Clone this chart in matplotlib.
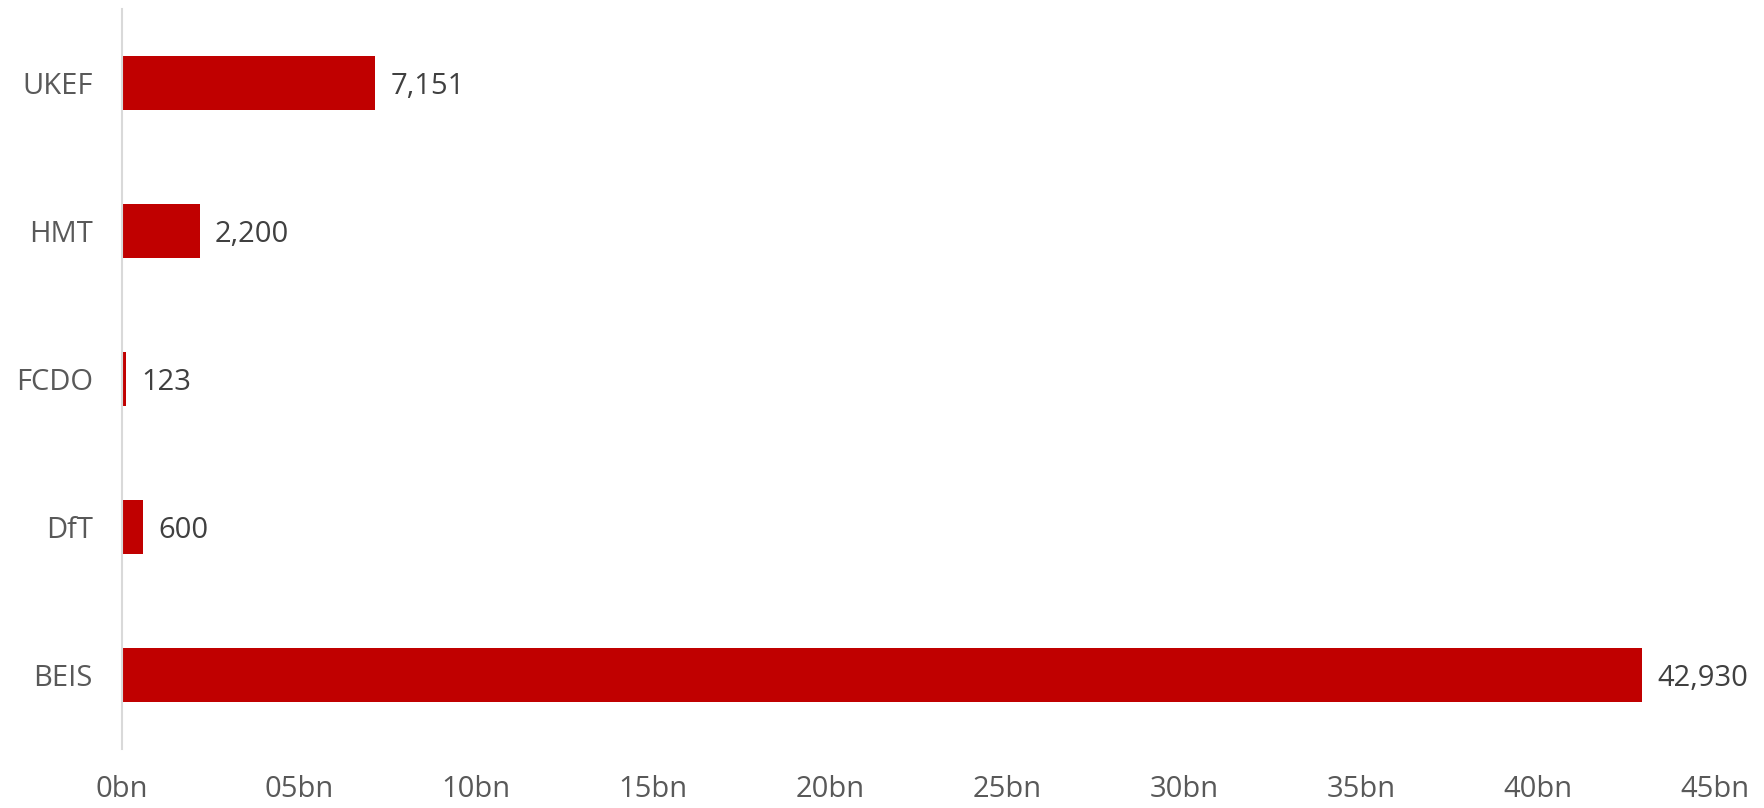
import matplotlib.pyplot as plt

# departamentos y valores (millones)
departments = ['BEIS', 'DfT', 'FCDO', 'HMT', 'UKEF']
values = [42930, 600, 123, 2200, 7151]
xticks = [0, 5, 10, 15, 20, 25, 30, 35, 40, 45]
xtick_labels = ['0bn', '05bn', '10bn', '15bn', '20bn', '25bn', '30bn', '35bn', '40bn', '45bn']

plt.rcParams['font.family'] = ['Open Sans', 'DejaVu Sans']

fig = plt.figure(figsize=(17.65, 8.08), dpi=100)
ax = fig.add_axes([0.0691, 0.073, 0.9026, 0.916])

vals_bn = [v / 1000 for v in values]
bars = ax.barh(range(len(departments)), vals_bn, height=0.36, color='#C00000')

for i, v in enumerate(values):
    ax.annotate(f'{v:,}', xy=(vals_bn[i], i), xytext=(11, 0), textcoords='offset points',
                va='center_baseline', ha='left', fontsize=21, color='#404040')

ax.set_xlim(0, 45)
ax.set_ylim(-0.5, len(departments) - 0.5)
ax.set_yticks(range(len(departments)))
ax.set_yticklabels(departments, fontsize=21, color='#595959', va='center_baseline')
ax.set_xticks(xticks)
ax.set_xticklabels(xtick_labels, fontsize=21, color='#595959')
ax.tick_params(axis='both', length=0)
ax.tick_params(axis='y', pad=21)
ax.tick_params(axis='x', pad=19)

for s in ['top', 'right', 'bottom']:
    ax.spines[s].set_visible(False)
ax.spines['left'].set_color('#d9d9d9')
ax.spines['left'].set_linewidth(1.5)

fig.savefig('out.png', dpi=100)
